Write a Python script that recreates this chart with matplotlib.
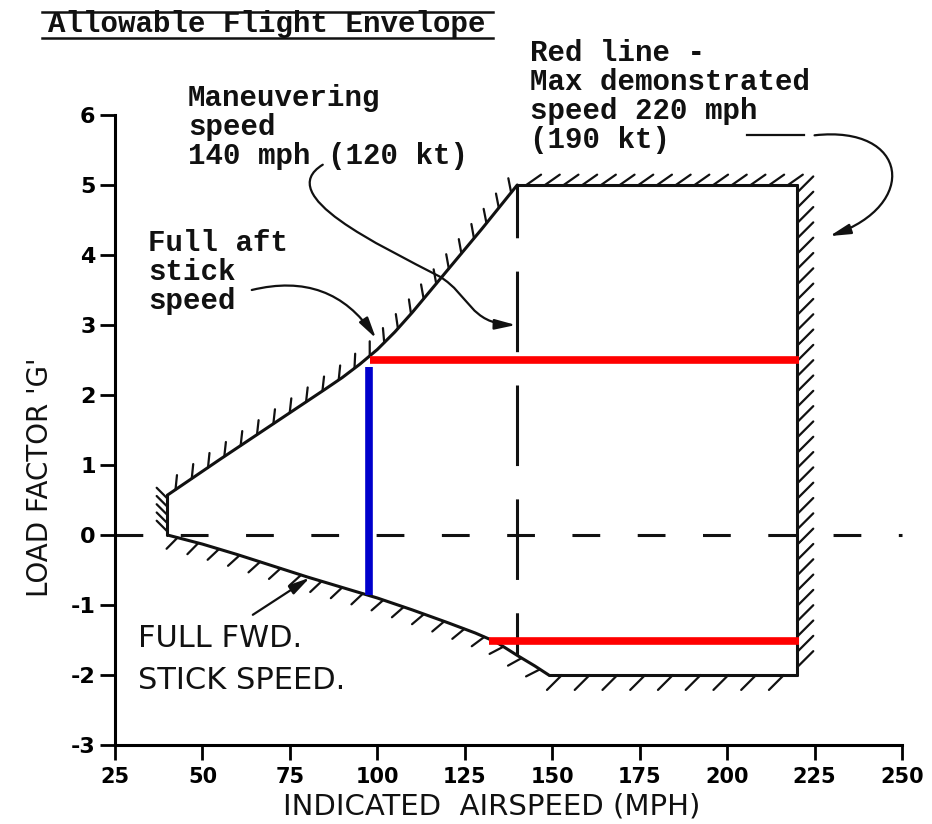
import matplotlib
matplotlib.use("Agg")
import matplotlib.pyplot as plt
import matplotlib.patheffects as pe
from matplotlib.lines import Line2D
from matplotlib.patches import FancyArrowPatch
from matplotlib.path import Path

plt.rcParams["lines.scale_dashes"] = False
plt.rcParams["axes.unicode_minus"] = False

# envelope boundaries: airspeed (mph) vs load factor (g)
aft_speed = [40, 55, 70, 85, 90, 95, 100, 105, 110, 120, 130, 140]
aft_g = [0.57, 1.08, 1.58, 2.08, 2.25, 2.44, 2.65, 2.90, 3.18, 3.78, 4.38, 5.0]
fwd_speed = [149, 145, 140, 134, 128, 120, 110, 100, 90, 80, 70, 60, 50, 40]
fwd_g = [-2.0, -1.87, -1.72, -1.53, -1.40, -1.25, -1.07, -0.90, -0.75, -0.60,
         -0.44, -0.28, -0.13, 0.0]
stall_speed = [40, 40]
stall_g = [0.0, 0.57]
top_speed = [140, 220]
top_g = [5, 5]
redline_speed = [220, 220]
redline_g = [5, -2]
bottom_speed = [220, 149]
bottom_g = [-2, -2]
maneuver_speed = [140, 140]
maneuver_g = [5, -1.72]
zero_speed = [25, 250]
zero_g = [0, 0]

# coloured overlay lines
red_hi_speed = [98, 220.5]
red_hi_g = [2.5, 2.5]
red_lo_speed = [132, 220.5]
red_lo_g = [-1.52, -1.52]
blue_speed = [97.5, 97.5]
blue_g = [2.4, -0.85]

x_ticks = [25, 50, 75, 100, 125, 150, 175, 200, 225, 250]
y_ticks = [-3, -2, -1, 0, 1, 2, 3, 4, 5, 6]

W, H = 932, 824
fig = plt.figure(figsize=(W / 100, H / 100), dpi=100)
ax = fig.add_axes([115 / W, 1 - 745 / H, (902 - 115) / W, (745 - 115) / H])
ax.set_xlim(25, 250)
ax.set_ylim(-3, 6)
for s in ["top", "right"]:
    ax.spines[s].set_visible(False)
for s in ["left", "bottom"]:
    ax.spines[s].set_linewidth(2.2)
ax.set_xticks(x_ticks)
ax.set_xticklabels([str(v) for v in x_ticks], fontsize=15, fontweight="bold")
ax.set_yticks(y_ticks)
ax.set_yticklabels([str(v) for v in y_ticks], fontsize=16, fontweight="bold")
ax.tick_params(axis="y", direction="out", length=11, width=2, pad=3)
ax.tick_params(axis="x", direction="out", length=11, width=2, pad=5)

ink = "#111111"
lw = 2.2


def hatched(xs, ys, angle, spacing, length):
    ax.plot(xs, ys, color=ink, lw=lw, solid_capstyle="round", solid_joinstyle="round",
            path_effects=[pe.withTickedStroke(angle=angle, spacing=spacing,
                                              length=length, linewidth=1.6)])


hatched(aft_speed, aft_g, 50, 14, 0.75)
hatched(stall_speed, stall_g, 45, 5, 2.2)
hatched(fwd_speed, fwd_g, 60, 15, 0.75)
hatched(top_speed, top_g, 35, 13, 1.0)
hatched(redline_speed, redline_g, 135, 11, 1.5)
hatched(bottom_speed, bottom_g, 45, 19, 0.8)

ax.plot(maneuver_speed, maneuver_g, color=ink, lw=lw, linestyle=(20, (58, 24)))
ax.plot(zero_speed, zero_g, color=ink, lw=lw, linestyle=(0, (20, 27)), clip_on=False)

ax.plot(red_hi_speed, red_hi_g, color="#ff0000", lw=5.5, solid_capstyle="butt")
ax.plot(red_lo_speed, red_lo_g, color="#ff0000", lw=5.5, solid_capstyle="butt")
ax.plot(blue_speed, blue_g, color="#0000cc", lw=5.5, solid_capstyle="butt")

arrow_kw = dict(arrowstyle="-|>,head_length=0.9,head_width=0.22",
                mutation_scale=14, color=ink, lw=1.6)

# maneuvering speed S-shaped pointer
verts = [(84.4, 5.29), (70.0, 4.85), (100.7, 4.14), (117.9, 3.69),
         (126.4, 3.43), (126.4, 3.02), (139.6, 3.0)]
codes = [Path.MOVETO] + [Path.CURVE4] * 6
ax.add_patch(FancyArrowPatch(path=Path(verts, codes), clip_on=False, **arrow_kw))

# red line pointer
ax.plot([205.6, 222.1], [5.71, 5.71], color=ink, lw=1.6, clip_on=False)
verts = [(225.0, 5.71), (252.0, 5.86), (255.0, 4.71), (229.3, 4.27)]
codes = [Path.MOVETO] + [Path.CURVE4] * 3
ax.add_patch(FancyArrowPatch(path=Path(verts, codes), clip_on=False, **arrow_kw))

# full aft stick pointer
ax.annotate("", xy=(99.6, 2.81), xytext=(64.1, 3.5),
            arrowprops=dict(connectionstyle="arc3,rad=-0.35", shrinkA=0, shrinkB=0, **arrow_kw))
# full forward stick pointer
ax.annotate("", xy=(80.7, -0.61), xytext=(64.4, -1.14),
            arrowprops=dict(shrinkA=0, shrinkB=0, **arrow_kw))

mono = dict(family="Liberation Mono", fontweight="bold", fontsize=21,
            color=ink, va="top", ha="left", linespacing=1.04)
fig.text(530 / W, 1 - 39 / H, "Red line -\nMax demonstrated\nspeed 220 mph\n(190 kt)", **mono)
fig.text(188 / W, 1 - 84 / H, "Maneuvering\nspeed\n140 mph (120 kt)", **mono)
fig.text(148 / W, 1 - 229 / H, "Full aft\nstick\nspeed", **mono)

hand = dict(family="DejaVu Sans", fontsize=22, color=ink, va="top", ha="left",
            linespacing=1.55)
fig.text(138 / W, 1 - 624 / H, "FULL FWD.\nSTICK SPEED.", **hand)

fig.text(492 / W, 1 - 806 / H, "INDICATED  AIRSPEED (MPH)", family="DejaVu Sans",
         fontsize=21, ha="center", va="center", color=ink)
fig.text(40 / W, 1 - 477 / H, "LOAD FACTOR 'G'", family="DejaVu Sans",
         fontsize=20, ha="center", va="center", rotation=90, color=ink)

fig.text(48 / W, 1 - 24 / H, "Allowable Flight Envelope", family="Liberation Mono",
         fontweight="bold", fontsize=21, ha="left", va="center", color=ink)
fig.add_artist(Line2D([42 / W, 493 / W], [1 - 12 / H, 1 - 12 / H], color=ink, lw=1.8,
                      transform=fig.transFigure))
fig.add_artist(Line2D([42 / W, 493 / W], [1 - 38 / H, 1 - 38 / H], color=ink, lw=1.8,
                      transform=fig.transFigure))

fig.savefig("out.png", dpi=100, facecolor="white")
